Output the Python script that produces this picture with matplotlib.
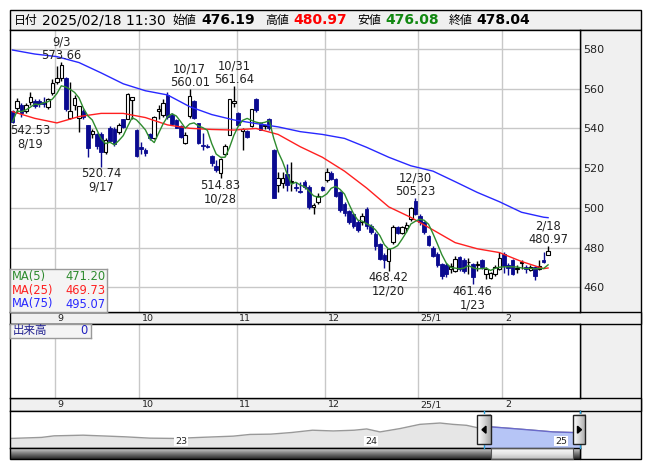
import numpy as np
import pandas as pd
import matplotlib
matplotlib.use("Agg")
import matplotlib.pyplot as plt
from matplotlib.patches import Rectangle, Polygon
from matplotlib.transforms import offset_copy, blended_transform_factory
from matplotlib.colors import LinearSegmentedColormap

W, H = 653, 470
FONT = ["DejaVu Sans", "Noto Sans CJK JP"]
plt.rcParams["font.family"] = FONT

# ---------------- data ----------------
dates = ["8/19", "8/20", "8/21", "8/22", "8/23", "8/26", "8/27", "8/28", "8/29", "8/30",
         "9/2", "9/3", "9/4", "9/5", "9/6", "9/9", "9/10", "9/11", "9/12", "9/13",
         "9/17", "9/18", "9/19", "9/20", "9/24", "9/25", "9/26", "9/27", "9/30",
         "10/1", "10/2", "10/3", "10/4", "10/7", "10/8", "10/9", "10/10", "10/11",
         "10/15", "10/16", "10/17", "10/18", "10/21", "10/22", "10/23", "10/24", "10/25",
         "10/28", "10/29", "10/30", "10/31",
         "11/1", "11/5", "11/6", "11/7", "11/8", "11/11", "11/12", "11/13", "11/14", "11/15",
         "11/18", "11/19", "11/20", "11/21", "11/22", "11/25", "11/26", "11/27", "11/28", "11/29",
         "12/2", "12/3", "12/4", "12/5", "12/6", "12/9", "12/10", "12/11", "12/12", "12/13",
         "12/16", "12/17", "12/18", "12/19", "12/20", "12/23", "12/24", "12/25", "12/26", "12/27",
         "12/30",
         "1/6", "1/7", "1/8", "1/9", "1/10", "1/14", "1/15", "1/16", "1/17",
         "1/20", "1/21", "1/22", "1/23", "1/24", "1/27", "1/28", "1/29", "1/30", "1/31",
         "2/3", "2/4", "2/5", "2/6", "2/7", "2/10", "2/12", "2/13", "2/14", "2/17", "2/18"]

opens = [548.9, 550.5, 552.0, 549.0, 553.5, 554.0, 554.0, 553.5, 550.6, 558.0,
         563.5, 565.2, 565.2, 545.5, 551.8, 545.5, 549.0, 541.7, 537.4, 537.0,
         537.0, 528.0, 540.0, 539.7, 538.0, 544.7, 545.0, 554.5, 539.3,
         530.5, 529.0, 537.0, 535.0, 549.0, 547.0, 557.0, 547.0, 544.5,
         541.0, 532.6, 546.1, 553.6, 542.7, 531.5, 531.0, 526.0, 521.0,
         517.5, 527.0, 536.8, 553.0,
         547.7, 538.5, 538.5, 541.0, 554.8, 542.7, 541.0, 544.7, 529.0, 511.6,
         512.5, 517.2, 513.0, 510.5, 508.5, 513.0, 510.4, 500.5, 502.9, 510.3,
         513.8, 517.6, 514.6, 508.0, 502.0, 498.5, 497.0, 493.0, 493.0, 499.5,
         491.0, 487.0, 481.8, 476.5, 473.4, 482.7, 490.3, 487.5, 490.0, 494.5,
         503.6,
         495.8, 492.8, 486.0, 480.0, 477.0, 471.8, 471.0, 469.0, 468.0,
         475.5, 474.0, 472.5, 471.7, 471.0, 474.0, 466.5, 464.5, 466.6, 469.0,
         476.8, 471.0, 474.0, 469.0, 472.0, 470.0, 468.5, 470.0, 469.0, 474.0, 476.19]

highs = [549.5, 555.5, 553.0, 553.0, 558.5, 555.0, 555.0, 556.0, 555.5, 565.0,
         571.6, 573.66, 566.0, 563.5, 557.0, 551.5, 550.0, 542.0, 539.5, 537.5,
         538.0, 535.0, 541.0, 540.5, 543.0, 545.0, 558.0, 556.0, 539.6,
         533.0, 530.0, 537.5, 546.5, 552.0, 555.0, 558.5, 548.0, 545.0,
         541.5, 538.0, 560.01, 554.5, 543.0, 537.6, 532.0, 526.5, 524.0,
         525.0, 532.0, 555.0, 561.64,
         548.5, 540.0, 539.0, 550.0, 555.3, 543.5, 542.5, 545.5, 529.5, 518.0,
         518.0, 522.0, 523.0, 513.0, 513.0, 514.0, 511.5, 502.5, 507.5, 511.0,
         520.0, 518.5, 515.0, 508.5, 503.0, 499.0, 497.5, 494.0, 497.5, 500.5,
         492.0, 488.0, 482.5, 477.5, 480.0, 491.3, 491.0, 491.0, 493.0, 500.3,
         505.23,
         497.0, 493.5, 486.5, 481.0, 478.0, 472.0, 472.0, 472.0, 476.0,
         476.0, 475.0, 475.0, 472.0, 473.0, 474.5, 470.0, 467.5, 471.0, 477.6,
         477.6, 472.0, 474.5, 471.0, 474.0, 471.0, 471.0, 470.5, 474.0, 478.0, 480.97]

lows = [542.53, 548.0, 546.0, 548.0, 552.0, 550.5, 551.0, 551.0, 550.0, 557.0,
        562.4, 564.0, 549.0, 544.7, 549.5, 538.0, 545.0, 525.4, 535.0, 529.5,
        520.74, 527.0, 533.0, 531.0, 537.0, 540.0, 544.7, 545.0, 525.5,
        527.0, 526.0, 534.0, 534.5, 545.0, 546.0, 545.0, 542.0, 540.0,
        535.0, 532.0, 545.5, 545.0, 532.0, 529.0, 530.0, 521.0, 518.0,
        514.83, 526.0, 536.5, 551.0,
        541.0, 529.0, 535.0, 540.5, 548.5, 539.0, 539.5, 539.0, 505.0, 508.0,
        510.0, 508.3, 508.7, 508.5, 507.5, 509.5, 499.5, 497.0, 502.0, 508.5,
        513.0, 514.0, 505.5, 498.0, 496.0, 492.0, 490.0, 488.0, 491.5, 489.5,
        487.0, 479.0, 474.0, 469.5, 468.42, 482.0, 487.0, 487.0, 488.0, 493.5,
        496.5,
        491.5, 487.0, 481.0, 475.5, 470.0, 464.0, 465.0, 467.0, 467.5,
        468.0, 467.0, 466.5, 461.46, 468.0, 469.0, 464.0, 464.0, 465.5, 468.5,
        467.0, 466.0, 466.0, 467.0, 469.0, 467.0, 468.0, 463.5, 468.5, 472.0, 476.08]

closes = [543.5, 554.0, 548.0, 552.0, 556.0, 551.5, 552.5, 552.5, 555.0, 562.7,
          565.2, 572.0, 549.7, 548.9, 555.1, 551.4, 546.0, 530.4, 538.5, 531.0,
          528.0, 534.0, 533.8, 532.0, 541.7, 540.5, 557.3, 555.8, 526.2,
          529.8, 527.5, 535.0, 546.0, 550.0, 553.0, 545.6, 542.5, 540.3,
          535.5, 536.9, 556.2, 545.2, 532.6, 531.0, 530.5, 522.5, 519.0,
          524.5, 531.0, 554.8, 553.6,
          541.8, 539.5, 535.6, 549.7, 549.4, 539.3, 541.5, 540.0, 505.2, 515.0,
          515.0, 511.3, 513.2, 510.0, 508.0, 510.7, 500.3, 501.5, 506.2, 509.2,
          518.0, 514.6, 506.0, 498.7, 497.5, 493.0, 491.0, 489.0, 496.0, 491.0,
          487.7, 481.0, 474.3, 473.5, 479.3, 490.3, 487.5, 490.5, 491.5, 499.8,
          497.0,
          492.8, 487.7, 481.5, 476.0, 471.0, 465.9, 466.5, 470.5, 474.5,
          469.0, 468.0, 472.8, 465.0, 471.5, 470.0, 469.0, 467.0, 470.0, 474.6,
          470.8, 469.5, 466.6, 469.5, 472.5, 469.0, 470.0, 465.5, 470.5, 472.5, 478.04]

ma_days = [0, 5, 10, 15, 20, 25, 30, 35, 40, 45, 50, 55, 60, 65, 70, 75, 80, 85,
           90, 95, 100, 105, 110, 115, 120, 121]
ma25 = [548.5, 545.1, 542.8, 546.0, 547.6, 547.6, 545.5, 541.8, 540.1, 539.5, 539.2,
        540.0, 537.0, 530.8, 525.5, 518.5, 510.0, 500.5, 495.2, 488.9, 482.5, 479.4,
        477.5, 473.0, 469.4, 469.73]
ma75 = [579.5, 577.5, 576.2, 573.2, 568.0, 562.5, 559.0, 556.9, 551.0, 547.0, 544.3,
        542.5, 540.8, 538.4, 537.0, 535.0, 530.5, 525.5, 521.2, 518.5, 513.2, 507.8,
        503.1, 497.8, 495.3, 495.07]
legend_names = ["MA(5)", "MA(25)", "MA(75)"]
legend_values = [471.20, 469.73, 495.07]

month_labels = ["9", "10", "11", "12", "25/1", "2"]
price_ticks = [460, 480, 500, 520, 540, 560, 580]

ann_dates = ["9/3", "8/19", "9/17", "10/17", "10/31", "10/28", "12/30", "12/20", "1/23", "2/18"]
ann_kind = ["high", "low", "low", "high", "high", "low", "high", "low", "low", "high"]

header_date = "2025/02/18 11:30"
header_open, header_high, header_low, header_close = 476.19, 480.97, 476.08, 478.04

nav_t = [2022.134, 2022.298, 2022.364, 2022.517, 2022.649, 2022.737, 2022.868, 2023.0,
         2023.132, 2023.307, 2023.395, 2023.504, 2023.614, 2023.724, 2023.833, 2023.943,
         2024.009, 2024.079, 2024.184, 2024.289, 2024.395, 2024.463, 2024.535, 2024.588,
         2024.626, 2024.667, 2024.779, 2024.884, 2024.989, 2025.088, 2025.129]
nav_p = [398, 412, 433, 442, 429, 420, 402, 398, 412, 429, 452, 456, 478, 509, 499, 509,
         526, 486, 531, 588, 606, 588, 575, 545, 553, 553, 531, 509, 486, 478, 476]
nav_years = ["23", "24", "25"]
nav_year_t = [2023.0, 2024.0, 2025.0]
nav_window = (2024.626, 2025.129)
volume_label, volume_value = "出来高", 0

# ---------------- style ----------------
NAVY = "#0a0a90"
GRID = "#c8c8c8"
PANEL = "#f0f0f0"
C_MA5, C_MA25, C_MA75 = "#2e8b2e", "#ff2020", "#2828ff"

fig = plt.figure(figsize=(W / 100, H / 100), dpi=100)


def px_axes(x0, y0, x1, y1, z=1):
    a = fig.add_axes([x0 / W, 1 - y1 / H, (x1 - x0) / W, (y1 - y0) / H])
    a.set_zorder(z)
    return a


# background layer
bg = px_axes(0, 0, W, H, z=0)
bg.set_xlim(0, W)
bg.set_ylim(H, 0)
bg.axis("off")
bg.add_patch(Rectangle((10, 10), 630.5, 20, facecolor=PANEL, edgecolor="black", lw=1))
bg.add_patch(Rectangle((579.5, 30), 61, 429.3, facecolor=PANEL, edgecolor="black", lw=1))
bg.add_patch(Rectangle((10, 312), 630.5, 11.5, facecolor=PANEL, edgecolor="black", lw=1))
bg.add_patch(Rectangle((10, 397.5), 630.5, 13, facecolor=PANEL, edgecolor="black", lw=1))

x = np.arange(len(dates))
o = np.array(opens); h = np.array(highs); l = np.array(lows); c = np.array(closes)
months = [int(d.split("/")[0]) for d in dates]
month_idx = [i for i in range(1, len(months)) if months[i] != months[i - 1]]
grid_x = [i - 0.4 for i in month_idx]
XL = (-0.59, 128.1)

# main price chart
ax = px_axes(10, 30, 579.5, 312, z=1)
ax.set_xlim(*XL)
ax.set_ylim(447.56, 589.6)
ax.set_facecolor("white")
for yv in price_ticks:
    ax.axhline(yv, color=GRID, lw=1, zorder=1)
for gx in grid_x:
    ax.axvline(gx, color=GRID, lw=1, zorder=1)

up = c >= o
lo_b = np.minimum(o, c)
hb = np.maximum(np.abs(c - o), 0.3)
ax.vlines(x[up], l[up], h[up], color="black", lw=1.0, zorder=3)
ax.vlines(x[~up], l[~up], h[~up], color=NAVY, lw=1.0, zorder=3)
ax.bar(x[up], hb[up], bottom=lo_b[up], width=0.78, facecolor="white",
       edgecolor="black", lw=0.8, zorder=4)
ax.bar(x[~up], hb[~up], bottom=lo_b[~up], width=0.82, facecolor=NAVY,
       edgecolor=NAVY, lw=0.6, zorder=4)

ma5 = pd.Series(c).rolling(5, min_periods=1).mean().values
ax.plot(ma_days, ma75, color=C_MA75, lw=1.0, zorder=5)
ax.plot(ma_days, ma25, color=C_MA25, lw=1.0, zorder=5)
ax.plot(x, ma5, color=C_MA5, lw=1.0, zorder=6)

for d, k in zip(ann_dates, ann_kind):
    i = dates.index(d)
    if k == "high":
        txt = f"{d}\n{h[i]:.2f}"
        yv, va, dy = h[i], "bottom", 0
    else:
        txt = f"{l[i]:.2f}\n{d}"
        yv, va, dy = l[i], "top", -0.5
    ha, dx = "center", 0
    if i == 0:
        ha, dx = "left", -2
    ax.annotate(txt, xy=(i, yv), xytext=(dx, dy), textcoords="offset points",
                ha=ha, va=va, ma="center", fontsize=8.3, color="#222222",
                linespacing=1.0, zorder=8)

ax.yaxis.tick_right()
ax.set_yticks(price_ticks)
ax.set_yticklabels([str(v) for v in price_ticks], fontsize=8, color="#222222")
ax.tick_params(axis="y", length=0, pad=3)
ax.set_xticks([])
for s in ax.spines.values():
    s.set_color("black"); s.set_linewidth(1)

# MA legend box
lg = px_axes(10, 269.3, 106.7, 312, z=3)
lg.set_xlim(0, 96.7)
lg.set_ylim(42.7, 0)
lg.set_facecolor("#f4f4f4")
lg.set_xticks([]); lg.set_yticks([])
for s in lg.spines.values():
    s.set_color("#999999"); s.set_linewidth(1)
for r, (nm, val, col) in enumerate(zip(legend_names, legend_values, [C_MA5, C_MA25, C_MA75])):
    yy = 6.9 + r * 13.9
    lg.text(1.5, yy, nm, color=col, fontsize=8.3, va="center", ha="left")
    lg.text(95.5, yy, f"{val:.2f}", color=col, fontsize=8.3, va="center", ha="right")


def month_band(y0, y1):
    b = px_axes(10, y0, 579.5, y1, z=2)
    b.set_xlim(*XL)
    b.set_ylim(0, 1)
    b.axis("off")
    tr = offset_copy(blended_transform_factory(b.transData, b.transAxes), fig=fig,
                     x=2.0, y=0, units="points")
    for gx, lab in zip(grid_x, month_labels):
        b.text(gx, 0.45, lab, transform=tr, fontsize=6.8, ha="left", va="center",
               color="#222222")


month_band(312, 323.5)
month_band(397.5, 410.5)

# volume panel
vol = px_axes(10, 323.5, 579.5, 397.5, z=1)
vol.set_xlim(*XL)
vol.set_ylim(0, 1)
vol.set_facecolor("white")
for gx in grid_x:
    vol.axvline(gx, color=GRID, lw=1)
vol.set_xticks([]); vol.set_yticks([])
for s in vol.spines.values():
    s.set_color("black"); s.set_linewidth(1)
vb = px_axes(10, 323.5, 90.7, 338, z=3)
vb.set_facecolor("#f4f4f4")
vb.set_xticks([]); vb.set_yticks([])
for s in vb.spines.values():
    s.set_color("#999999"); s.set_linewidth(1)
vb.text(0.03, 0.5, volume_label, transform=vb.transAxes, fontsize=8.3, color="#202090",
        va="center", ha="left", family=["Noto Sans CJK JP", "DejaVu Sans"])
vb.text(0.96, 0.5, str(volume_value), transform=vb.transAxes, fontsize=8.3,
        color="#2020c0", va="center", ha="right")

# navigator
nv = px_axes(10, 410.5, 579.5, 448.3, z=1)
nv.set_xlim(2022.132, 2025.129)
nv.set_ylim(265, 775)
nv.set_facecolor("white")
nt = np.array(nav_t); npv = np.array(nav_p)
nv.fill_between(nt, npv, 265, color="#e6e6e6", lw=0, zorder=1)
nv.plot(nt, npv, color="#999999", lw=1, zorder=2)
m = nt >= nav_window[0]
nv.fill_between(nt[m], npv[m], 265, color="#b6c5f6", lw=0, zorder=3)
nv.plot(nt[m], npv[m], color="#6a6acc", lw=1, zorder=4)
for yt, lab in zip(nav_year_t, nav_years):
    nv.text(yt, 300, lab, fontsize=6.8, ha="left", va="bottom", color="#222222", zorder=5,
            bbox=dict(facecolor="white", edgecolor="none", pad=0.5))
nv.set_xticks([]); nv.set_yticks([])
for s in nv.spines.values():
    s.set_color("black"); s.set_linewidth(1)

# top overlay: header, navigator handles, scrollbar
top = px_axes(0, 0, W, H, z=10)
top.set_xlim(0, W)
top.set_ylim(H, 0)
top.axis("off")
top.patch.set_alpha(0)

jp = ["Noto Sans CJK JP", "DejaVu Sans"]
hy = 20.3
top.text(13.5, hy, "日付", fontsize=8.6, family=jp, va="center", ha="left")
top.text(41.5, hy, header_date, fontsize=10, va="center", ha="left")
top.text(172.5, hy, "始値", fontsize=8.6, family=jp, va="center", ha="left")
top.text(201.5, hy, f"{header_open:.2f}", fontsize=10, weight="bold", va="center", ha="left")
top.text(265, hy, "高値", fontsize=8.6, family=jp, va="center", ha="left")
top.text(293.5, hy, f"{header_high:.2f}", fontsize=10, weight="bold", color="#ff0000",
         va="center", ha="left")
top.text(357, hy, "安値", fontsize=8.6, family=jp, va="center", ha="left")
top.text(385, hy, f"{header_low:.2f}", fontsize=10, weight="bold", color="#118811",
         va="center", ha="left")
top.text(449, hy, "終値", fontsize=8.6, family=jp, va="center", ha="left")
top.text(476.5, hy, f"{header_close:.2f}", fontsize=10, weight="bold", va="center", ha="left")

# window edges
for xe in (484, 579.5):
    top.plot([xe, xe], [410.5, 448.3], color="#2aa0d8", lw=1)

# scrollbar
dark = LinearSegmentedColormap.from_list("d", ["#d4d4d4", "#7a7a7a", "#2a2a2a"])
light = LinearSegmentedColormap.from_list("l", ["#fafafa", "#e6e6e6", "#bdbdbd"])
grad = np.linspace(0, 1, 32).reshape(-1, 1)
top.imshow(grad, cmap=dark, extent=(10, 490.7, 459.3, 448.3), aspect="auto", origin="upper")
top.imshow(grad, cmap=light, extent=(490.7, 572.5, 459.3, 448.3), aspect="auto", origin="upper")
top.imshow(grad, cmap=dark, extent=(572.5, 579.5, 459.3, 448.3), aspect="auto", origin="upper")
top.add_patch(Rectangle((10, 448.3), 569.5, 11, facecolor="none", edgecolor="black", lw=1))
top.add_patch(Rectangle((490.7, 448.3), 81.8, 11, facecolor="none", edgecolor="#555555", lw=0.8))
top.set_xlim(0, W)
top.set_ylim(H, 0)

# handles
for (hx0, hx1, pts) in [(477.3, 490.7, [(482, 429.7), (486, 426.2), (486, 433.2)]),
                        (572.7, 585.3, [(581.5, 429.7), (577.5, 426.2), (577.5, 433.2)])]:
    top.imshow(np.linspace(0, 1, 16).reshape(1, -1),
               cmap=LinearSegmentedColormap.from_list("h", ["#ffffff", "#d8d8d8", "#a8a8a8"]),
               extent=(hx0, hx1, 444.3, 415), aspect="auto", zorder=3)
    top.add_patch(Rectangle((hx0, 415), hx1 - hx0, 29.3, facecolor="none",
                            edgecolor="#222222", lw=1, zorder=4))
    top.add_patch(Polygon(pts, closed=True, facecolor="black", edgecolor="black", zorder=5))
top.set_xlim(0, W)
top.set_ylim(H, 0)

fig.savefig("out.png", dpi=100)
